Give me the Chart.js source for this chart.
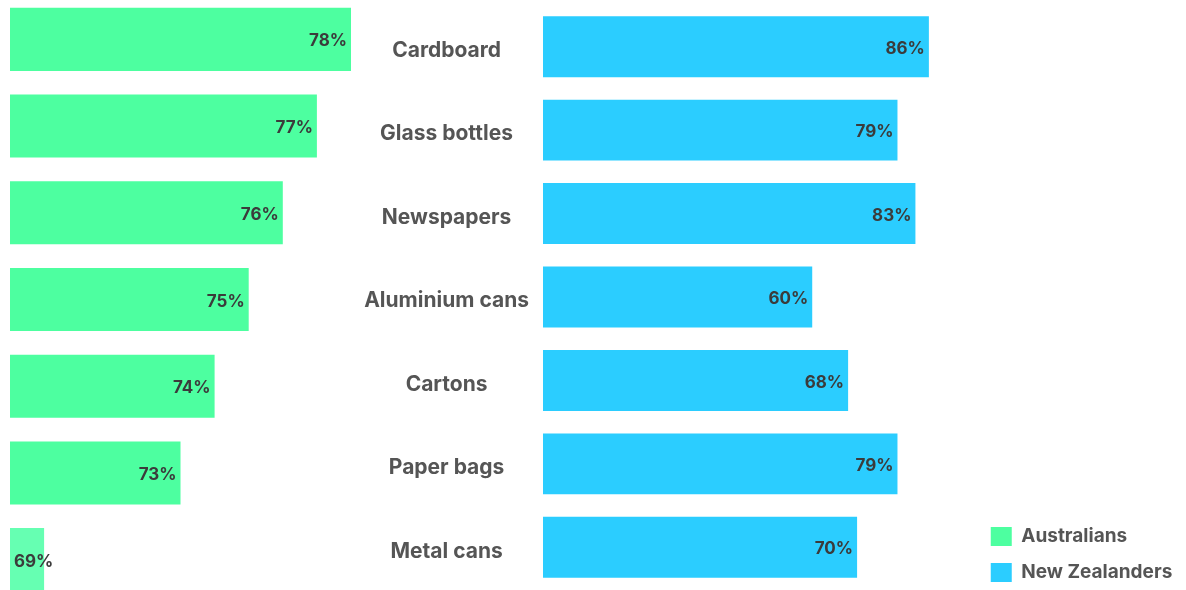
<!DOCTYPE html>
<html>
<head>
<meta charset="utf-8">
<script src="https://cdn.jsdelivr.net/npm/chart.js@4"></script>
<style>
  html, body { margin: 0; padding: 0; background: #fff; overflow: hidden; }
  #wrap { position: relative; width: 1186px; height: 590px; overflow: hidden; }
  #graficoAus { position: absolute; left: 10px; top: -4px; }
  #graficoNz { position: absolute; left: 355px; top: -1px; }
</style>
</head>
<body>
<div id="wrap">
  <canvas id="graficoAus" width="341" height="607"></canvas>
  <canvas id="graficoNz" width="825" height="600"></canvas>
</div>
<script>
const materiais = ["Cardboard", "Glass bottles", "Newspapers", "Aluminium cans", "Cartons", "Paper bags", "Metal cans"];
const australianos = [78, 77, 76, 75, 74, 73, 69];
const neozelandeses = [86, 79, 83, 60, 68, 79, 70];
const corAus = "#4dffa0";
const coresAus = ["#4dffa0", "#4dffa0", "#4dffa0", "#4dffa0", "#4dffa0", "#4dffa0", "#66ffb2"];
const corNz = "#2bcdff";
const legendas = ["Australians", "New Zealanders"];

const fonte = "Inter, 'Open Sans', sans-serif";
const corTexto = "#555555";

// desenha o valor + % no fim de cada barra
const rotulosBarras = {
  id: "rotulosBarras",
  afterDatasetsDraw(chart) {
    const ctx = chart.ctx;
    const inicio = chart.chartArea.left;
    ctx.save();
    ctx.font = "bold 17px " + fonte;
    ctx.fillStyle = "#3b3b3b";
    ctx.textBaseline = "middle";
    chart.getDatasetMeta(0).data.forEach((bar, i) => {
      const texto = chart.data.datasets[0].data[i] + "%";
      const largura = ctx.measureText(texto).width;
      if (largura + 8 > bar.x - inicio) {
        ctx.textAlign = "left";
        ctx.fillText(texto, inicio + 4, bar.y + 2);
      } else {
        ctx.textAlign = "right";
        ctx.fillText(texto, bar.x - 4, bar.y + 2);
      }
    });
    ctx.restore();
  },
};

new Chart(document.getElementById("graficoAus"), {
  type: "bar",
  data: {
    labels: materiais,
    datasets: [
      {
        label: legendas[0],
        data: australianos,
        backgroundColor: coresAus,
        categoryPercentage: 1,
        barPercentage: 0.727,
      },
    ],
  },
  options: {
    indexAxis: "y",
    responsive: false,
    animation: false,
    layout: { padding: 0 },
    scales: {
      x: { display: false, min: 68, max: 78 },
      y: { display: false },
    },
    plugins: { legend: { display: false }, tooltip: { enabled: false } },
  },
  plugins: [rotulosBarras],
});

new Chart(document.getElementById("graficoNz"), {
  type: "bar",
  data: {
    labels: materiais,
    datasets: [
      {
        label: legendas[1],
        data: neozelandeses,
        backgroundColor: corNz,
        categoryPercentage: 1,
        barPercentage: 0.73,
      },
    ],
  },
  options: {
    indexAxis: "y",
    responsive: false,
    animation: false,
    layout: { padding: 0 },
    scales: {
      x: { display: false, min: 0, max: 96 },
      y: {
        grid: { display: false },
        border: { display: false },
        afterFit: (axis) => {
          axis.width = 188;
          axis.paddingTop = 6;
          axis.paddingBottom = 10;
        },
        ticks: {
          crossAlign: "center",
          padding: 6,
          labelOffset: 4,
          color: corTexto,
          font: { family: fonte, size: 21, weight: "bold" },
        },
      },
    },
    plugins: {
      tooltip: { enabled: false },
      legend: {
        position: "right",
        align: "end",
        labels: {
          boxWidth: 21,
          boxHeight: 19,
          padding: 17,
          color: corTexto,
          font: { family: fonte, size: 19, weight: "bold" },
          generateLabels: () => [
            { text: legendas[0], fillStyle: corAus, strokeStyle: corAus, fontColor: corTexto, lineWidth: 0, hidden: false },
            { text: legendas[1], fillStyle: corNz, strokeStyle: corNz, fontColor: corTexto, lineWidth: 0, hidden: false },
          ],
        },
      },
    },
  },
  plugins: [rotulosBarras],
});
</script>
</body>
</html>
